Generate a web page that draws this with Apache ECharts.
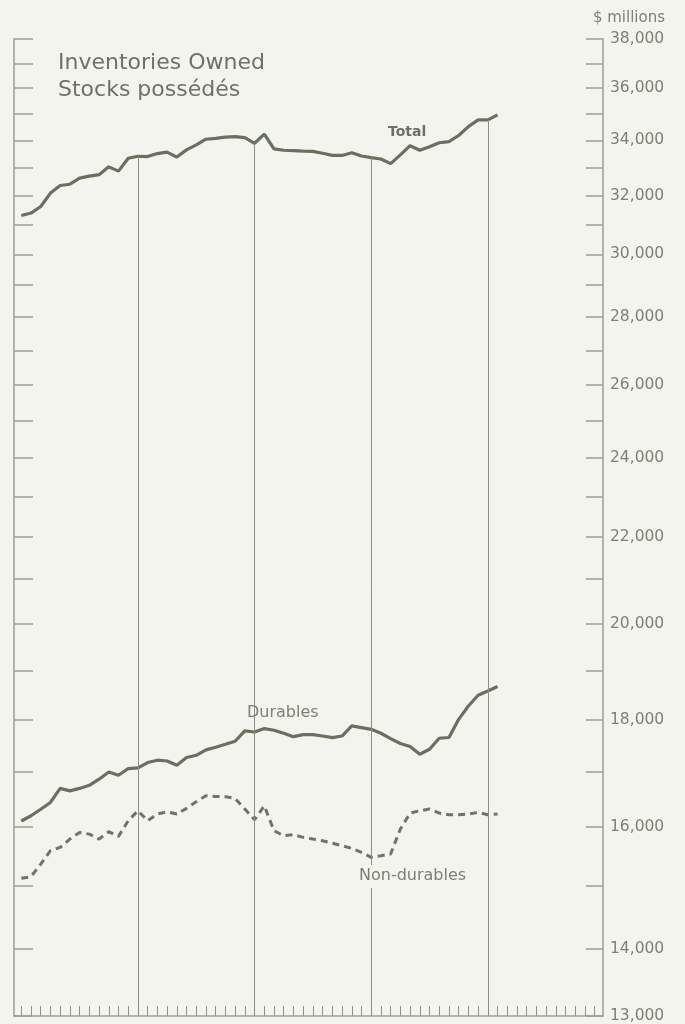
<!DOCTYPE html>
<html><head><meta charset="utf-8">
<script src="https://cdn.jsdelivr.net/npm/echarts@6/dist/echarts.min.js"></script>
<style>html,body{margin:0;padding:0;background:#f4f4ef;}#c{width:685px;height:1024px;}</style>
</head><body><div id="c"></div>
<script>
// month index (0 = first month shown); year separators at January of each following year
const months = [0,1,2,3,4,5,6,7,8,9,10,11,12,13,14,15,16,17,18,19,20,21,22,23,24,25,26,27,28,29,30,31,32,33,34,35,36,37,38,39,40,41,42,43,44,45,46,47,48,49];
const total = [31306,31390,31617,32085,32353,32400,32616,32690,32740,33023,32870,33338,33410,33400,33508,33560,33380,33645,33828,34040,34075,34120,34140,34100,33890,34230,33680,33630,33620,33600,33590,33520,33440,33440,33540,33420,33360,33310,33140,33460,33800,33630,33760,33910,33950,34180,34517,34770,34770,34960];
const durables = [16104,16196,16313,16435,16690,16645,16690,16747,16860,16995,16933,17058,17070,17171,17215,17200,17120,17265,17308,17411,17462,17518,17577,17777,17757,17823,17790,17732,17666,17705,17705,17678,17647,17678,17875,17842,17809,17732,17628,17533,17475,17328,17423,17635,17650,18005,18271,18487,18575,18665];
const nonDurables = [15121,15148,15360,15587,15644,15787,15902,15873,15787,15915,15834,16108,16286,16108,16227,16268,16227,16328,16448,16556,16544,16538,16507,16316,16126,16375,15933,15846,15863,15817,15787,15758,15717,15672,15626,15558,15473,15501,15530,15962,16244,16286,16316,16244,16215,16215,16227,16256,16215,16227];
const yearLineMonths = [12,24,36,48];
const yLabelValues = [13000,14000,16000,18000,20000,22000,24000,26000,28000,30000,32000,34000,36000,38000];
const yTickValues = [13000,14000,15000,16000,17000,18000,19000,20000,21000,22000,23000,24000,25000,26000,27000,28000,29000,30000,31000,32000,33000,34000,35000,36000,37000,38000];
const xTickValues = [0,1,2,3,4,5,6,7,8,9,10,11,12,13,14,15,16,17,18,19,20,21,22,23,24,25,26,27,28,29,30,31,32,33,34,35,36,37,38,39,40,41,42,43,44,45,46,47,48,49,50,51,52,53,54,55,56,57,58,59];
const titleLines = ['Inventories Owned','Stocks possédés'];
const unitLabel = '$ millions';

const FONT = '"DejaVu Sans", sans-serif';
const LINE = '#687060';
const AXIS = '#9ba092';
const TEXT = '#7c8173';
const BG = '#f4f4ef';

const chart = echarts.init(document.getElementById('c'), null, {renderer:'canvas'});
const pairs = arr => months.map((m,i)=>[m, arr[i]]);

const yBase = {
  type:'log', logBase:10, min:13000, max:38000,
  splitLine:{show:false},
  axisLine:{show:true, onZero:false, lineStyle:{color:AXIS, width:1.5}},
};

chart.setOption({
  backgroundColor: BG,
  animation:false,
  grid:{left:14, right:82, top:39, bottom:7},
  xAxis:{
    type:'value', min:-0.75, max:59.85,
    axisLine:{show:true, onZero:false, lineStyle:{color:AXIS, width:1.5}},
    axisTick:{show:true, inside:true, length:10, customValues:xTickValues, lineStyle:{color:'#8f9486', width:1}},
    axisLabel:{show:false},
    splitLine:{show:false}
  },
  yAxis:[
    Object.assign({}, yBase, {
      position:'right',
      axisTick:{show:true, inside:true, length:17, customValues:yTickValues, lineStyle:{color:AXIS, width:1.5}},
      axisLabel:{show:true, customValues:yLabelValues, margin:7, color:TEXT, fontFamily:FONT, fontSize:15.5,
        formatter: v => Math.round(v).toLocaleString('en-US')}
    }),
    Object.assign({}, yBase, {
      position:'left',
      axisTick:{show:true, inside:true, length:19, customValues:yTickValues, lineStyle:{color:AXIS, width:1.5}},
      axisLabel:{show:false}
    })
  ],
  series:[
    {
      name:'Total', type:'line', yAxisIndex:0, data:pairs(total), showSymbol:false,
      lineStyle:{color:LINE, width:3.2}, z:3,
      markLine:{
        silent:true, symbol:['none','none'], label:{show:false},
        lineStyle:{color:'#8a8f81', width:1, type:'solid'},
        data: yearLineMonths.map(m => [{coord:[m, total[m]]},{coord:[m, 13000]}])
      }
    },
    {name:'Durables', type:'line', yAxisIndex:0, data:pairs(durables), showSymbol:false,
      lineStyle:{color:LINE, width:3.2}, z:3},
    {name:'Non-durables', type:'line', yAxisIndex:0, data:pairs(nonDurables), showSymbol:false,
      lineStyle:{color:'#6f7468', width:3, type:[7,5]}, z:3}
  ],
  graphic:[
    {type:'text', left:58, top:50, z:10, style:{text:titleLines.join('\n'), font:'500 22px '+FONT, fill:'#6c7266', lineHeight:27}},
    {type:'text', right:20, top:11, z:10, style:{text:unitLabel, font:'15px '+FONT, fill:TEXT}},
    {type:'text', left:388, top:125, z:10, style:{text:'Total', font:'bold 14px '+FONT, fill:'#6a7064'}},
    {type:'text', left:247, top:705, z:10, style:{text:'Durables', font:'16px '+FONT, fill:TEXT}},
    {type:'text', left:357, top:865, z:10, style:{text:'Non-durables', font:'16px '+FONT, fill:TEXT, backgroundColor:BG, padding:[3,2,4,2]}}
  ]
});
</script></body></html>
